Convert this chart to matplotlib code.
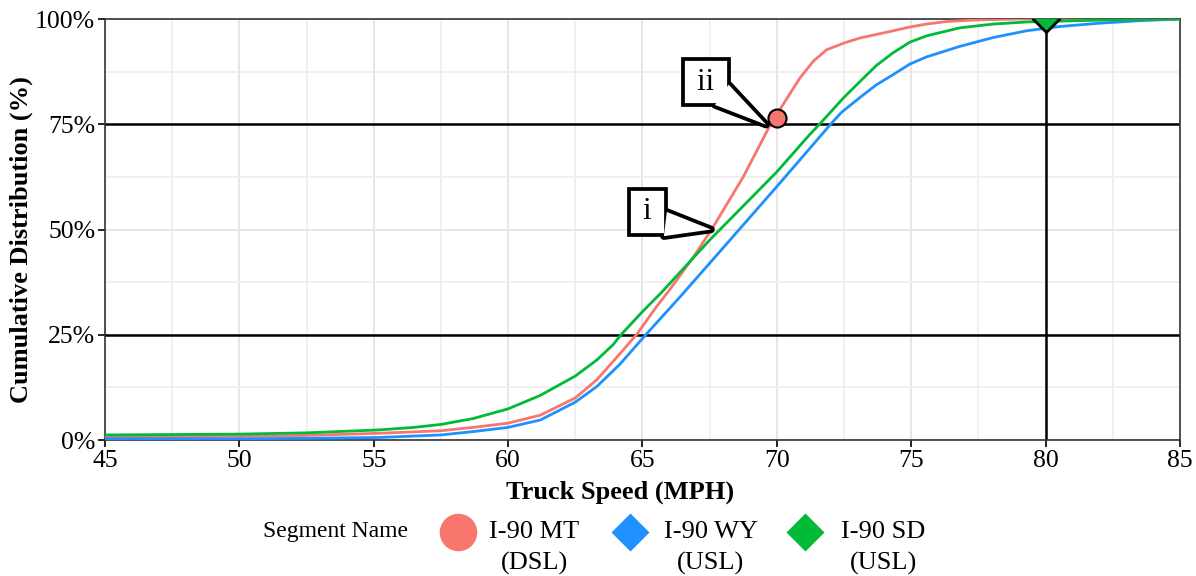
import matplotlib.pyplot as plt
from matplotlib.lines import Line2D
from matplotlib.ticker import MultipleLocator, FuncFormatter

plt.rcParams['font.family'] = ['Liberation Serif', 'DejaVu Serif']

# 数据：累计分布 (%)
speed_mt = [45, 50, 52.5, 55.2, 57.5, 58.7, 60, 61.2, 62.5, 63.3, 64.16, 64.8, 65.5, 66, 66.9, 67.6,
            68.75, 69.75, 70.36, 70.86, 71.36, 71.85, 72.5, 73.1, 74.33, 74.95, 75.57, 76.3, 77.5, 79, 85]
cdf_mt = [0.7, 0.9, 1.1, 1.6, 2.2, 3.0, 4.0, 5.9, 10.0, 14.3, 20.5, 25.2, 31.5, 35.6, 43.5, 50.3,
          62.5, 74.8, 81.0, 86.0, 90.0, 92.7, 94.3, 95.5, 97.2, 98.1, 98.8, 99.4, 99.8, 100, 100]

speed_wy = [45, 50, 52.5, 55.2, 57.5, 58.7, 60, 61.2, 62.5, 63.3, 64.16, 65.15, 66.3, 67.5, 70, 72,
            72.4, 73.1, 73.71, 74.33, 74.95, 75.57, 76.81, 78.05, 79.29, 80.5, 82, 83.5, 85]
cdf_wy = [0.3, 0.3, 0.4, 0.6, 1.2, 2.0, 3.0, 4.75, 9.0, 12.7, 18.0, 25.2, 33.3, 42.0, 60.2, 75.0,
          77.8, 81.4, 84.4, 86.8, 89.3, 91.0, 93.5, 95.6, 97.2, 98.2, 99.0, 99.6, 100]

speed_sd = [45, 50, 52.5, 55.2, 56.5, 57.5, 58.7, 60, 61.2, 62.5, 63.3, 63.9, 64.2, 65, 65.7, 67.5,
            70, 71.2, 71.6, 72.47, 73.1, 73.71, 74.33, 74.95, 75.57, 76.81, 78.05, 79.3, 81.8, 85]
cdf_sd = [1.2, 1.4, 1.7, 2.4, 3.0, 3.7, 5.1, 7.4, 10.6, 15.2, 19.0, 22.6, 25.0, 30.5, 35.0, 47.5,
          63.7, 72.4, 75.1, 81.2, 85.2, 89.0, 92.0, 94.5, 96.0, 97.9, 98.8, 99.3, 99.7, 100]

series_names = ['I-90 MT\n(DSL)', 'I-90 WY\n(USL)', 'I-90 SD\n(USL)']
colors = ['#F8766D', '#1E90FF', '#00BA38']
markers = ['o', 'D', 'D']

x_ticks = [45, 50, 55, 60, 65, 70, 75, 80, 85]
y_ticks = [0, 25, 50, 75, 100]
ref_y = [25, 75]
ref_x = 80
point_ii = (70, 76.5)
point_sd = (80, 100)

fig = plt.figure(figsize=(11.96, 5.76), dpi=100)
ax = fig.add_axes([0.0878, 0.2361, 0.8988, 0.7309])

# 网格
ax.xaxis.set_major_locator(MultipleLocator(5))
ax.xaxis.set_minor_locator(MultipleLocator(2.5))
ax.yaxis.set_major_locator(MultipleLocator(25))
ax.yaxis.set_minor_locator(MultipleLocator(12.5))
ax.grid(True, which='major', color='#e6e6e6', lw=1.4)
ax.grid(True, which='minor', color='#eeeeee', lw=1.2)
ax.tick_params(which='minor', length=0)
ax.set_axisbelow(True)

for yv in ref_y:
    ax.axhline(yv, color='black', lw=1.8, zorder=2)
ax.axvline(ref_x, color='black', lw=1.8, zorder=2)

for xs, vals, c in zip([speed_mt, speed_wy, speed_sd], [cdf_mt, cdf_wy, cdf_sd], colors):
    ax.plot(xs, vals, color=c, lw=2.0, zorder=3, solid_joinstyle='round')

ax.plot(*point_ii, marker='o', ms=13, mfc=colors[0], mec='black', mew=1.5, zorder=5)
ax.plot(*point_sd, marker='D', ms=13, mfc=colors[2], mec='black', mew=2, zorder=5, clip_on=True)


# 标注框（气泡形状：黑边楔形在框下 + 白色楔形盖住接缝）
def callout(label, tip, center, base):
    ws = 'wedge,tail_width=0.8,shrink_factor=0.5'
    ax.annotate('', xy=tip, xytext=base, zorder=5,
                arrowprops=dict(arrowstyle=ws, fc='white', ec='black', lw=5.4,
                                mutation_scale=22, shrinkA=0, shrinkB=0))
    ax.text(center[0], center[1], '\u2009' + label + '\u2009', fontsize=22, ha='center', va='center',
            zorder=6, bbox=dict(boxstyle='square,pad=0.27', fc='white', ec='black', lw=2.7))
    ax.annotate('', xy=tip, xytext=base, zorder=7,
                arrowprops=dict(arrowstyle=ws, fc='white', ec='none', lw=0,
                                mutation_scale=22, shrinkA=0, shrinkB=0))


callout('ii', (69.6, 74.9), (67.36, 85.0), (67.95, 82.0))
callout('i', (67.55, 50.0), (65.2, 54.2), (65.85, 51.3))

ax.set_xlim(45, 85)
ax.set_ylim(0, 100)
ax.set_xticks(x_ticks)
ax.set_yticks(y_ticks)
ax.yaxis.set_major_formatter(FuncFormatter(lambda v, _: '%d%%' % v))
ax.tick_params(which='major', length=5, width=1.2, labelsize=18.5, colors='black', pad=2)
for s in ax.spines.values():
    s.set_color('#333333')
    s.set_linewidth(1.2)

ax.set_xlabel('Truck Speed (MPH)', fontsize=19, fontweight='bold')
ax.set_ylabel('Cumulative Distribution (%)', fontsize=19, fontweight='bold')
ax.xaxis.set_label_coords(0.479, -0.097)
ax.yaxis.set_label_coords(-0.067, 0.477)

# 图例（手动排布：标题在左，标记对齐第一行）
W, H = 1196.0, 576.0
fig.text(263 / W, 1 - 531 / H, 'Segment Name', fontsize=17, ha='left', va='center')
marker_x = [458, 630, 805]
label_x = [489, 664, 841]
for mx, lx, name, m, c in zip(marker_x, label_x, series_names, markers, colors):
    fig.add_artist(Line2D([mx / W], [1 - 532 / H], ls='none', marker=m,
                          ms=27 if m == 'o' else 19.5, mfc=c, mec='none',
                          transform=fig.transFigure))
    fig.text(lx / W, 1 - 548 / H, name, fontsize=19, ha='left', va='center',
             multialignment='center', linespacing=1.5)

plt.savefig('out.png', dpi=100)
